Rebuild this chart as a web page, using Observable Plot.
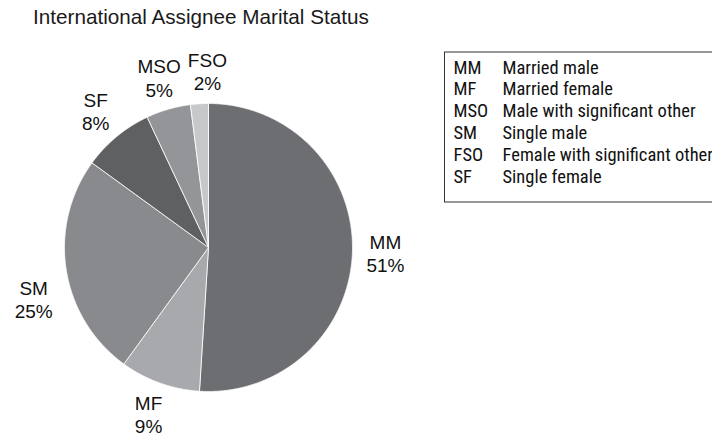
<!DOCTYPE html>
<html><head><meta charset="utf-8">
<script src="https://cdn.jsdelivr.net/npm/d3@7"></script>
<script src="https://cdn.jsdelivr.net/npm/@observablehq/plot@0.6"></script>
<style>
body{margin:0;background:#fff;}
#wrap{position:relative;width:712px;height:437px;overflow:hidden;background:#fff;}
#title{position:absolute;left:33px;top:5px;font-family:"Liberation Sans",Arial,Helvetica,sans-serif;font-size:20.7px;color:#1a1a1a;white-space:nowrap;}
#chart{position:absolute;left:0;top:0;}
</style></head><body>
<div id="wrap"><div id="chart"></div><div id="title">International Assignee Marital Status</div></div>
<script>
// data
const categories = ["MM", "MF", "SM", "SF", "MSO", "FSO"];
const shares = [51, 9, 25, 8, 5, 2];
const legendCodes = ["MM", "MF", "MSO", "SM", "FSO", "SF"];
const legendLabels = ["Married male", "Married female", "Male with significant other", "Single male", "Female with significant other", "Single female"];
const sliceColors = ["#6d6e71", "#a7a9ac", "#898a8d", "#5f6062", "#939598", "#c7c8ca"];

// layout
const W = 712, H = 437;
const cx = 208, cy = 247, R = 144, labelR = 177;
const labelNudge = {SM: [0, 24], FSO: [10, 0]};

const rows = categories.map((c, i) => ({name: c, share: shares[i]}));
const arcs = d3.pie().sort(null).value(d => d.share)(rows);

const slicePts = [];
for (const a of arcs) {
  slicePts.push({name: a.data.name, x: cx, y: cy});
  const n = Math.max(4, Math.ceil((a.endAngle - a.startAngle) / 0.005));
  for (let k = 0; k <= n; k++) {
    const t = a.startAngle + (a.endAngle - a.startAngle) * k / n;
    slicePts.push({name: a.data.name, x: cx + R * Math.sin(t), y: cy - R * Math.cos(t)});
  }
  slicePts.push({name: a.data.name, x: cx, y: cy});
}

const labels = arcs.map(a => {
  const m = (a.startAngle + a.endAngle) / 2;
  const nd = labelNudge[a.data.name] || [0, 0];
  return {
    text: `${a.data.name}\n${a.data.share}%`,
    x: cx + labelR * Math.sin(m) + nd[0],
    y: cy - labelR * Math.cos(m) + nd[1]
  };
});

const legendRows = legendCodes.map((c, i) => ({code: c, label: legendLabels[i], i}));
const rowY = d => 73 + d.i * 21.8;
const narrow = "Liberation Sans Narrow, Arial Narrow, Roboto Condensed, DejaVu Sans Condensed, sans-serif";

const chart = Plot.plot({
  width: W, height: H,
  margin: 0,
  x: {domain: [0, W], range: [0, W], axis: null},
  y: {domain: [0, H], range: [0, H], axis: null},
  color: {domain: categories, range: sliceColors},
  style: {background: "white", overflow: "hidden"},
  marks: [
    Plot.line(slicePts, {x: "x", y: "y", z: "name", fill: "name", stroke: "white", strokeWidth: 0.8, strokeLinejoin: "round", curve: "linear"}),
    Plot.text(labels, {x: "x", y: "y", text: "text", fontSize: 19, lineHeight: 1.22, textAnchor: "middle", lineAnchor: "middle", fill: "#111", fontFamily: "Liberation Sans, Arial, sans-serif"}),
    Plot.rect([{}], {x1: 444.5, x2: 740, y1: 52, y2: 202, fill: "none", stroke: "#333", strokeWidth: 1}),
    Plot.text(legendRows, {x: 453, y: rowY, text: "code", textAnchor: "start", lineAnchor: "bottom", fontSize: 18.5, fill: "#111", fontFamily: narrow}),
    Plot.text(legendRows, {x: 502, y: rowY, text: "label", textAnchor: "start", lineAnchor: "bottom", fontSize: 18.5, fill: "#111", fontFamily: narrow})
  ]
});
document.getElementById("chart").appendChild(chart);
</script>
</body></html>
